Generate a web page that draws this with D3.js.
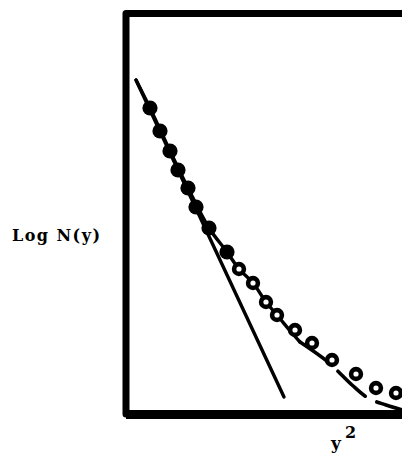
<!DOCTYPE html>
<html>
<head>
<meta charset="utf-8">
<script src="https://cdn.jsdelivr.net/npm/d3@7"></script>
<style>
  html, body { margin: 0; padding: 0; background: #fff; }
  svg { display: block; }
  text { font-family: "DejaVu Serif", "Liberation Serif", serif; font-weight: bold; fill: #000; }
</style>
</head>
<body>
<div id="chart"></div>
<script>
// Measured points: x = y^2, y = Log N(y) (arbitrary units, no tick marks on the figure)
const filledX = [1.2, 1.7, 2.2, 2.6, 3.1, 3.5, 4.15, 5.05];
const filledY = [15.3, 14.15, 13.15, 12.2, 11.3, 10.35, 9.3, 8.1];

const openX = [5.65, 6.35, 7.0, 7.55, 8.45, 9.3, 10.3, 11.5, 12.5, 13.5];
const openY = [7.25, 6.55, 5.6, 4.95, 4.2, 3.55, 2.7, 2.0, 1.3, 1.05];

// Straight-line (Gaussian) fit through the low-y^2 points
const lineX = [0.5, 7.9];
const lineY = [16.7, 0.85];

// Full fitted curve: solid part, then the dashed tail
const curveSolidX = [0.5, 1.2, 2.2, 3.1, 4.15, 5.05, 5.65, 6.35, 7.0, 7.55, 8.3, 8.7];
const curveSolidY = [16.7, 15.3, 13.15, 11.3, 9.3, 8.1, 7.25, 6.55, 5.6, 4.95, 4.05, 3.6];
const curveTailX = [8.7, 10.1, 11.3, 12.1, 13.0, 14.0];
const curveTailY = [3.6, 2.6, 1.45, 0.8, 0.45, 0.15];

const xLabel = "y";
const xLabelSup = "2";
const yLabel = "Log N(y)";

const W = 402, H = 454;
const svg = d3.select("#chart").append("svg")
  .attr("width", W).attr("height", H)
  .style("background", "#fff");

const x = d3.scaleLinear().domain([0, 14]).range([126, 406]);
const y = d3.scaleLinear().domain([0, 20]).range([414, 14]);

const zip = (a, b) => a.map((v, i) => [v, b[i]]);

// Frame: top, left and bottom sides (the right side runs off the page)
const [x0, x1] = x.domain();
const [y0, y1] = y.domain();
svg.append("path")
  .attr("d", `M${x(x1)},${y(y1) - 0.5} L${x(x0)},${y(y1) - 0.5} L${x(x0)},${y(y0)} L${x(x1)},${y(y0)}`)
  .attr("fill", "none")
  .attr("stroke", "#000")
  .attr("stroke-width", 7)
  .attr("stroke-linejoin", "round");

// thicker base line
svg.append("line")
  .attr("x1", x(x0)).attr("x2", x(x1))
  .attr("y1", y(y0) + 0.5).attr("y2", y(y0) + 0.5)
  .attr("stroke", "#000").attr("stroke-width", 9);

const lineGen = d3.line().x(d => x(d[0])).y(d => y(d[1]));
const curveGen = d3.line().x(d => x(d[0])).y(d => y(d[1])).curve(d3.curveCatmullRom.alpha(0.5));

// Straight line
svg.append("path")
  .attr("d", lineGen(zip(lineX, lineY)))
  .attr("fill", "none").attr("stroke", "#000")
  .attr("stroke-width", 3.4).attr("stroke-linecap", "round");

// Curve: solid part
svg.append("path")
  .attr("d", curveGen(zip(curveSolidX, curveSolidY)))
  .attr("fill", "none").attr("stroke", "#000")
  .attr("stroke-width", 3.4).attr("stroke-linecap", "round");

// Curve: dashed tail
svg.append("path")
  .attr("d", curveGen(zip(curveTailX, curveTailY)))
  .attr("fill", "none").attr("stroke", "#000")
  .attr("stroke-width", 3.6).attr("stroke-linecap", "round")
  .attr("stroke-dasharray", "33,15,37,13,60");

// Filled points
svg.append("g").selectAll("circle")
  .data(zip(filledX, filledY))
  .join("circle")
  .attr("cx", d => x(d[0])).attr("cy", d => y(d[1]))
  .attr("r", 7.6).attr("fill", "#000");

// Open points
svg.append("g").selectAll("circle")
  .data(zip(openX, openY))
  .join("circle")
  .attr("cx", d => x(d[0])).attr("cy", d => y(d[1]))
  .attr("r", 4.9).attr("fill", "#fff")
  .attr("stroke", "#000").attr("stroke-width", 4.6);

// Axis labels
svg.append("text")
  .attr("x", 12).attr("y", 241)
  .attr("font-size", 16)
  .attr("textLength", 88)
  .attr("lengthAdjust", "spacing")
  .text(yLabel);

svg.append("text").attr("x", 331).attr("y", 449).attr("font-size", 17).text(xLabel);
svg.append("text").attr("x", 345).attr("y", 438).attr("font-size", 16).text(xLabelSup);
</script>
</body>
</html>
